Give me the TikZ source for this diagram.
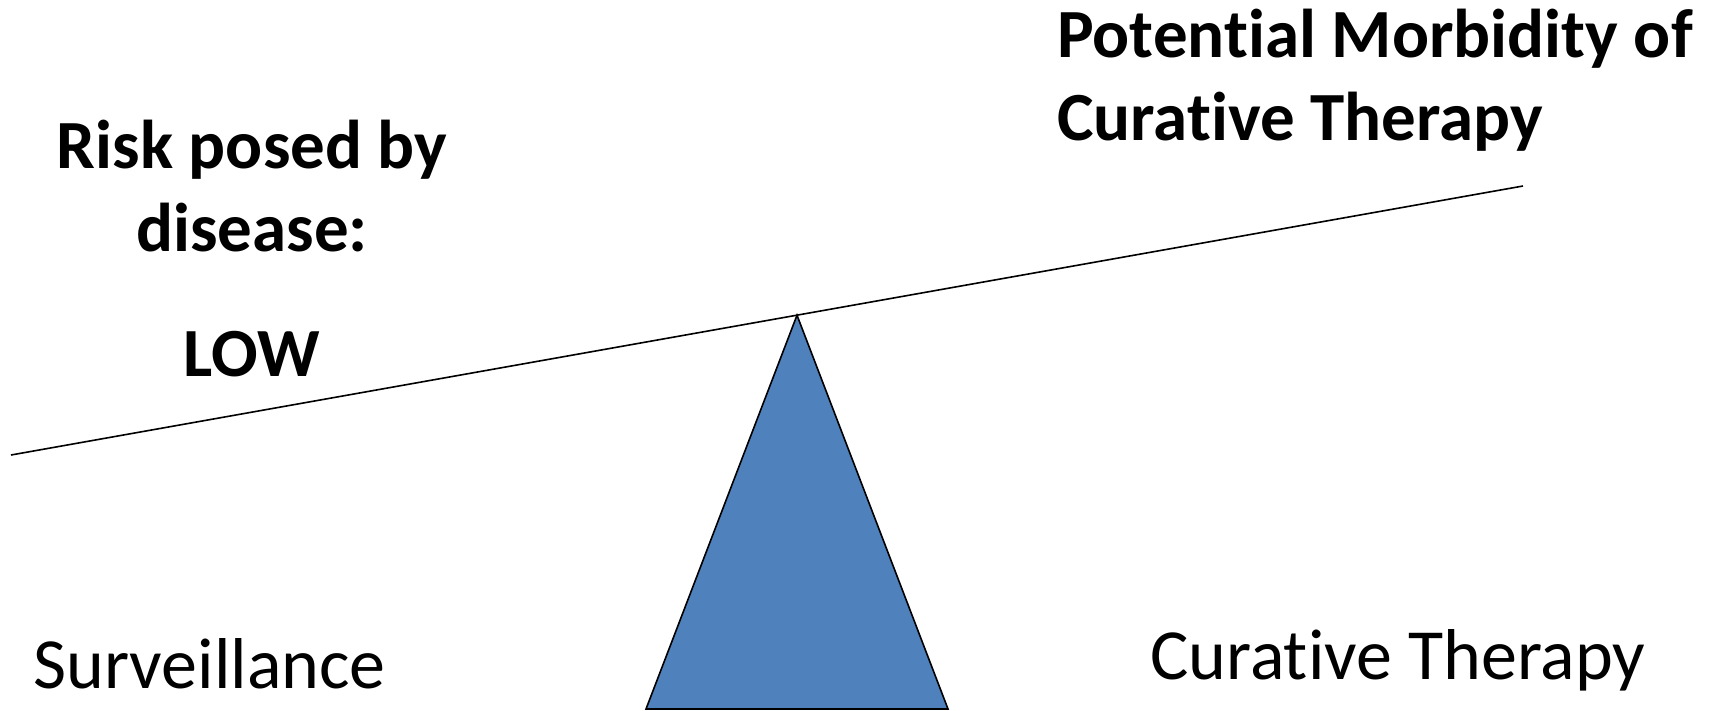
\documentclass[tikz,border=0pt]{standalone}
\usepackage{fontspec}
\setmainfont{Carlito}[Ligatures={NoCommon}]
\definecolor{fulcrum}{HTML}{4F81BD}
\begin{document}
\begin{tikzpicture}[x=1pt,y=-1pt,
  beam/.style={draw=black,line width=1.6pt},
  fulcrumshape/.style={draw=black,line width=1.6pt,fill=fulcrum,line join=miter},
  bigbold/.style={inner sep=0pt,font=\fontsize{69}{83}\selectfont\bfseries},
  bigreg/.style={inner sep=0pt,font=\fontsize{72}{83}\selectfont}]
\useasboundingbox (0,0) rectangle (1718,710);
\coordinate (L) at (11,455);
\coordinate (R) at (1523,186);
\coordinate (apex) at (797,315.2);
\coordinate (bl) at (646,709);
\coordinate (br) at (948,709);
\draw[beam] (L) -- (R);
\draw[fulcrumshape] (apex) -- (bl) -- (br) -- cycle;
\node[bigbold,align=center,anchor=base] (risk) at (252,251) {Risk posed by\\disease:};
\node[bigbold,anchor=base] (low) at (252,376) {LOW};
\node[bigbold,align=left,anchor=base west] (morb) at (1057,140) {Potential Morbidity of\\Curative Therapy};
\node[bigreg,anchor=base west] (surv) at (33,688) {Surveillance};
\node[bigreg,anchor=base west] (cure) at (1150,679) {Curative Therapy};
\end{tikzpicture}
\end{document}
